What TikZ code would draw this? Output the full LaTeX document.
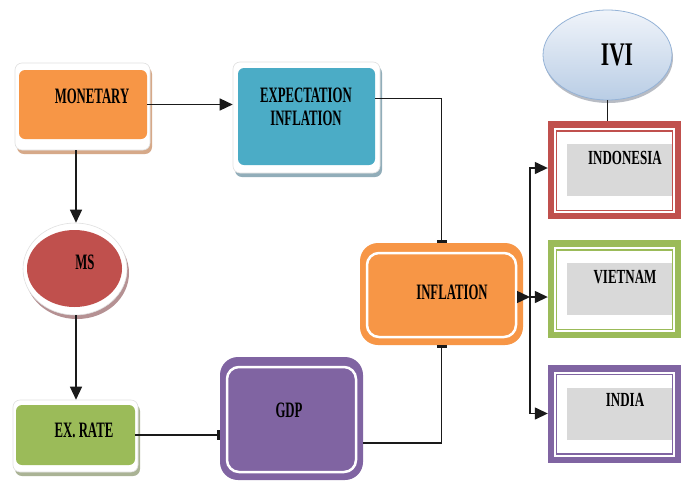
\documentclass[tikz,border=0pt]{standalone}
\usepackage{fontspec}
\newfontfamily\lblfont{Liberation Serif}[FakeStretch=0.58]
\newfontfamily\ctryfont{Liberation Serif}[FakeStretch=0.65]
\usetikzlibrary{arrows.meta,shadows,shapes.geometric}
\definecolor{cOrange}{HTML}{F79646}
\definecolor{cBlue}{HTML}{4BACC6}
\definecolor{cRed}{HTML}{C0504D}
\definecolor{cGreen}{HTML}{9BBB59}
\definecolor{cPurple}{HTML}{8064A2}
\definecolor{cGrey}{HTML}{D9D9D9}
\definecolor{cLine}{HTML}{1A1A1A}
\definecolor{cIviTop}{HTML}{F0F4FA}
\definecolor{cIviBot}{HTML}{B9CDE5}
\definecolor{cIviEdge}{HTML}{95B3D7}
\definecolor{shMon}{HTML}{D6A989}
\definecolor{shExp}{HTML}{91ADB9}
\definecolor{shExr}{HTML}{AAB395}
\definecolor{shMs}{HTML}{B59193}
\definecolor{shIvi}{HTML}{B8BCC4}
\tikzset{
  arr/.style={draw=cLine, line width=1.4pt, arrows={-Stealth[length=13pt,width=12pt,inset=0pt,fill=cLine]}},
  bar/.style={draw=cLine, line width=1.1pt, arrows={-Bar[width=10pt,line width=2.5pt]}},
  plain/.style={draw=cLine, line width=1.1pt}
}
\begin{document}
\begin{tikzpicture}[x=1pt,y=-1pt,
  shframe/.style={rectangle, rounded corners=7pt, fill=white, draw=black!12, line width=0.6pt, inner sep=0pt,
    drop shadow={shadow xshift=2pt, shadow yshift=-4pt, fill=#1, opacity=1}},
  innerbox/.style={rectangle, rounded corners=6pt, fill=#1, draw=none, inner sep=0pt},
  ibox/.style={rectangle, rounded corners=18pt, fill=#1, draw=none, inner sep=0pt,
    path picture={\draw[white, line width=2.5pt, rounded corners=12pt]
      ([shift={(7pt,-10pt)}]path picture bounding box.north west) rectangle
      ([shift={(-7pt,8pt)}]path picture bounding box.south east);}},
  cbox/.style={rectangle, fill=#1, draw=none, inner sep=0pt, minimum width=133pt, minimum height=98pt,
    path picture={
      \fill[white] ([shift={(6pt,-7pt)}]path picture bounding box.north west) rectangle
        ([shift={(-6pt,6pt)}]path picture bounding box.south east);
      \draw[#1, line width=1.4pt] ([shift={(8.5pt,-10pt)}]path picture bounding box.north west) rectangle
        ([shift={(-8.5pt,8.5pt)}]path picture bounding box.south east);
      \fill[cGrey] ([shift={(19pt,-23pt)}]path picture bounding box.north west) rectangle
        ([shift={(-9.5pt,23pt)}]path picture bounding box.south east);}},
  lbl/.style={font=\lblfont\bfseries\fontsize{22}{23}\selectfont, inner sep=0pt, align=center, text=black},
  ctry/.style={font=\ctryfont\bfseries\fontsize{20}{22}\selectfont, inner sep=0pt, text=black}
]
\fill[white] (0,0) rectangle (687,480);
\useasboundingbox (0,0) rectangle (687,480);

% MONETARY
\node[shframe=shMon, minimum width=135pt, minimum height=87pt] (monF) at (82.5,106.5) {};
\node[innerbox=cOrange, minimum width=128pt, minimum height=69pt] (mon) at (83,104.5) {};
\node[lbl] (monT) at (92,96) {MONETARY};

% EXPECTATION INFLATION
\node[shframe=shExp, minimum width=147pt, minimum height=111pt] (expF) at (306.5,117.5) {};
\node[innerbox=cBlue, minimum width=137pt, minimum height=97pt] (exp) at (306.5,116.5) {};
\node[lbl] (expT) at (306,106.5) {EXPECTATION\\INFLATION};

% MS
\node[ellipse, fill=white, draw=black!12, line width=0.6pt, inner sep=0pt, minimum width=104pt, minimum height=92pt,
  drop shadow={shadow xshift=2pt, shadow yshift=-4pt, fill=shMs, opacity=1}] (msF) at (75,269) {};
\node[ellipse, fill=cRed, draw=none, inner sep=0pt, minimum width=95pt, minimum height=77pt] (ms) at (74.5,268.5) {};
\node[lbl] (msT) at (85,262) {MS};

% EX. RATE
\node[shframe=shExr, minimum width=125pt, minimum height=72pt] (exrF) at (75.5,436) {};
\node[innerbox=cGreen, minimum width=119pt, minimum height=60pt] (exr) at (75.5,435) {};
\node[lbl] (exrT) at (84,430) {EX. RATE};

% GDP
\node[ibox=cPurple, minimum width=143pt, minimum height=123pt] (gdp) at (291.5,418.5) {};
\node[lbl] (gdpT) at (289,410) {GDP};

% INFLATION
\node[ibox=cOrange, minimum width=163pt, minimum height=102pt] (inf) at (441.5,294) {};
\node[lbl] (infT) at (452,292) {INFLATION};

% IVI
\node[ellipse, top color=cIviTop, bottom color=cIviBot, draw=cIviEdge, line width=0.8pt, inner sep=0pt,
  minimum width=129pt, minimum height=90pt,
  drop shadow={shadow xshift=1pt, shadow yshift=-3pt, fill=shIvi, opacity=1}] (ivi) at (607.5,55) {};
\node[font=\ctryfont\bfseries\fontsize{33}{35}\selectfont, inner sep=0pt] (iviT) at (617,55) {IVI};

% Countries
\node[cbox=cRed] (indo) at (614.5,170) {};
\node[ctry] (indoT) at (625,158) {INDONESIA};
\node[cbox=cGreen] (viet) at (614.5,289) {};
\node[ctry] (vietT) at (625,277) {VIETNAM};
\node[cbox=cPurple] (india) at (614.5,413.5) {};
\node[ctry] (indiaT) at (625,400) {INDIA};

% Connectors
\coordinate (trunk) at (530,297);
\draw[arr] (mon.east) -- (mon.east -| expF.west);
\draw[arr] (monF.south -| 76,0) -- (msF.north -| 76,0);
\draw[arr] (msF.south -| 76,0) -- (exrF.north -| 76,0);
\draw[bar] (exr.east) -- (exr.east -| gdp.west);
\draw[bar] ([yshift=-24.5pt]gdp.east) -| (inf.south);
\draw[bar] ([yshift=18pt]exp.east) -| (inf.north);
\draw[arr] (inf.east |- trunk) -- (trunk);
\draw[arr] (trunk) -- (trunk -| viet.west);
\draw[arr] (trunk) |- ([yshift=2pt]indo.west);
\draw[arr] (trunk) |- (india.west);
\draw[plain] (ivi.south) -- (ivi.south |- indo.north);
\end{tikzpicture}
\end{document}
